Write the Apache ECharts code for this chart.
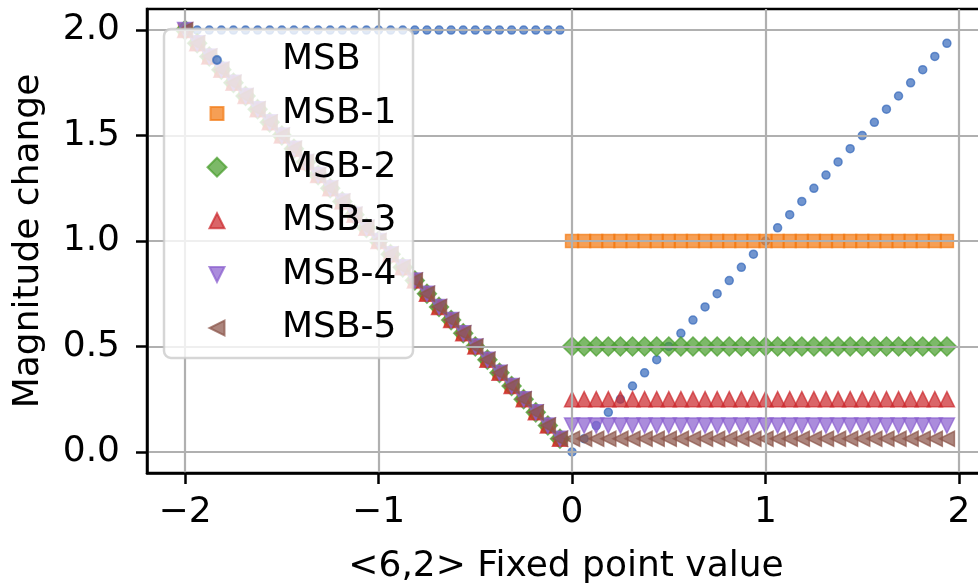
<!DOCTYPE html>
<html>
<head>
<meta charset="utf-8">
<script src="https://cdn.jsdelivr.net/npm/echarts@6/dist/echarts.min.js"></script>
<style>
  html, body { margin: 0; padding: 0; background: #fff; }
  #chart { width: 978px; height: 583px; }
</style>
</head>
<body>
<div id="chart"></div>
<script>
// <6,2> fixed point grid, step 1/16
const fixedValues = [
  -2, -1.9375, -1.875, -1.8125, -1.75, -1.6875, -1.625, -1.5625,
  -1.5, -1.4375, -1.375, -1.3125, -1.25, -1.1875, -1.125, -1.0625,
  -1, -0.9375, -0.875, -0.8125, -0.75, -0.6875, -0.625, -0.5625,
  -0.5, -0.4375, -0.375, -0.3125, -0.25, -0.1875, -0.125, -0.0625,
  0, 0.0625, 0.125, 0.1875, 0.25, 0.3125, 0.375, 0.4375,
  0.5, 0.5625, 0.625, 0.6875, 0.75, 0.8125, 0.875, 0.9375,
  1, 1.0625, 1.125, 1.1875, 1.25, 1.3125, 1.375, 1.4375,
  1.5, 1.5625, 1.625, 1.6875, 1.75, 1.8125, 1.875, 1.9375
];

// Magnitude change when flipping each bit
const msbChange = [
  2, 2, 2, 2, 2, 2, 2, 2,
  2, 2, 2, 2, 2, 2, 2, 2,
  2, 2, 2, 2, 2, 2, 2, 2,
  2, 2, 2, 2, 2, 2, 2, 2,
  0, 0.0625, 0.125, 0.1875, 0.25, 0.3125, 0.375, 0.4375,
  0.5, 0.5625, 0.625, 0.6875, 0.75, 0.8125, 0.875, 0.9375,
  1, 1.0625, 1.125, 1.1875, 1.25, 1.3125, 1.375, 1.4375,
  1.5, 1.5625, 1.625, 1.6875, 1.75, 1.8125, 1.875, 1.9375
];
// negative half: shared by the lower bits
const negativeHalf = [
  2, 1.9375, 1.875, 1.8125, 1.75, 1.6875, 1.625, 1.5625,
  1.5, 1.4375, 1.375, 1.3125, 1.25, 1.1875, 1.125, 1.0625,
  1, 0.9375, 0.875, 0.8125, 0.75, 0.6875, 0.625, 0.5625,
  0.5, 0.4375, 0.375, 0.3125, 0.25, 0.1875, 0.125, 0.0625
];
const msb1Change = negativeHalf.concat([
  1, 1, 1, 1, 1, 1, 1, 1, 1, 1, 1, 1, 1, 1, 1, 1,
  1, 1, 1, 1, 1, 1, 1, 1, 1, 1, 1, 1, 1, 1, 1, 1
]);
const msb2Change = negativeHalf.concat([
  0.5, 0.5, 0.5, 0.5, 0.5, 0.5, 0.5, 0.5, 0.5, 0.5, 0.5, 0.5, 0.5, 0.5, 0.5, 0.5,
  0.5, 0.5, 0.5, 0.5, 0.5, 0.5, 0.5, 0.5, 0.5, 0.5, 0.5, 0.5, 0.5, 0.5, 0.5, 0.5
]);
const msb3Change = negativeHalf.concat([
  0.25, 0.25, 0.25, 0.25, 0.25, 0.25, 0.25, 0.25, 0.25, 0.25, 0.25, 0.25, 0.25, 0.25, 0.25, 0.25,
  0.25, 0.25, 0.25, 0.25, 0.25, 0.25, 0.25, 0.25, 0.25, 0.25, 0.25, 0.25, 0.25, 0.25, 0.25, 0.25
]);
const msb4Change = negativeHalf.concat([
  0.125, 0.125, 0.125, 0.125, 0.125, 0.125, 0.125, 0.125, 0.125, 0.125, 0.125, 0.125, 0.125, 0.125, 0.125, 0.125,
  0.125, 0.125, 0.125, 0.125, 0.125, 0.125, 0.125, 0.125, 0.125, 0.125, 0.125, 0.125, 0.125, 0.125, 0.125, 0.125
]);
const msb5Change = negativeHalf.concat([
  0.0625, 0.0625, 0.0625, 0.0625, 0.0625, 0.0625, 0.0625, 0.0625, 0.0625, 0.0625, 0.0625, 0.0625, 0.0625, 0.0625, 0.0625, 0.0625,
  0.0625, 0.0625, 0.0625, 0.0625, 0.0625, 0.0625, 0.0625, 0.0625, 0.0625, 0.0625, 0.0625, 0.0625, 0.0625, 0.0625, 0.0625, 0.0625
]);

const seriesNames = ['MSB', 'MSB-1', 'MSB-2', 'MSB-3', 'MSB-4', 'MSB-5'];
const xTicks = [-2, -1, 0, 1, 2];
const yTicks = [0, 0.5, 1, 1.5, 2];

const FONT = 'DejaVu Sans';
const FS = 36;
const seriesValues = [msbChange, msb1Change, msb2Change, msb3Change, msb4Change, msb5Change];
const colors = ['#3a6cbc', '#f27a14', '#4a9e2e', '#cc2a2e', '#8a5fcf', '#8c564b'];
const symbols = ['circle', 'rect', 'diamond', 'triangle', 'triangle', 'triangle'];
const rotations = [0, 0, 0, 0, 180, 90];
// legend icons, oriented like the plotted markers
const legendIcons = [
  'circle', 'rect', 'diamond', 'triangle',
  'path://M0,0 L10,0 L5,10 Z',
  'path://M10,0 L10,10 L0,5 Z'
];
const sizes = [8, 13, 19, 15, 15, 15];
const rowCenters = [60, 113.6, 167.2, 220.8, 274.4, 328];

const minus = v => String(v).replace('-', '\u2212');

const series = seriesNames.map((name, k) => ({
  name,
  type: 'scatter',
  symbol: symbols[k],
  symbolRotate: rotations[k],
  symbolSize: sizes[k],
  data: fixedValues.map((x, i) => [x, seriesValues[k][i]]),
  itemStyle: { color: colors[k], opacity: 0.72, borderColor: colors[k], borderWidth: 1.5 },
  emphasis: { disabled: true },
  z: 2
}));

const legends = seriesNames.map((name, k) => ({
  data: [{ name, icon: legendIcons[k] }],
  orient: 'vertical',
  left: 216 - sizes[k] / 2,
  top: rowCenters[k] - 21,
  padding: 0,
  itemWidth: sizes[k],
  itemHeight: sizes[k],
  selectedMode: false,
  z: 6,
  textStyle: {
    fontFamily: FONT, fontSize: FS, color: '#000', lineHeight: 42,
    padding: [0, 0, 0, 281 - (216 + sizes[k] / 2 + 5)]
  }
}));

const chart = echarts.init(document.getElementById('chart'), null, { renderer: 'canvas' });
chart.setOption({
  animation: false,
  backgroundColor: '#fff',
  grid: {
    left: 147, top: 9, width: 838, height: 464,
    outerBoundsMode: 'none', containLabel: false,
    show: true, borderColor: '#000', borderWidth: 2.5, backgroundColor: 'transparent'
  },
  xAxis: {
    type: 'value', min: -2.196875, max: 2.134375, z: 3,
    name: '<6,2> Fixed point value', nameLocation: 'middle', nameGap: 76,
    nameTextStyle: { fontFamily: FONT, fontSize: FS, color: '#000' },
    axisLine: { show: true, onZero: false, lineStyle: { color: '#000', width: 2.5 } },
    axisTick: { show: true, customValues: xTicks, length: 11, lineStyle: { color: '#000', width: 2.5 } },
    axisLabel: { customValues: xTicks, margin: 22, fontFamily: FONT, fontSize: FS, color: '#000', formatter: v => minus(v) },
    splitLine: { show: true, lineStyle: { color: '#b0b0b0', width: 2.2 } }
  },
  yAxis: {
    type: 'value', min: -0.1, max: 2.1, z: 3,
    name: 'Magnitude change', nameLocation: 'middle', nameGap: 100,
    nameTextStyle: { fontFamily: FONT, fontSize: FS, color: '#000' },
    axisLine: { show: true, onZero: false, lineStyle: { color: '#000', width: 2.5 } },
    axisTick: { show: true, customValues: yTicks, length: 11, lineStyle: { color: '#000', width: 2.5 } },
    axisLabel: { customValues: yTicks, margin: 27, fontFamily: FONT, fontSize: FS, color: '#000', formatter: v => v.toFixed(1) },
    splitLine: { show: true, lineStyle: { color: '#b0b0b0', width: 2.2 } }
  },
  graphic: [{
    type: 'rect', z: 5,
    shape: { x: 164, y: 29, width: 249, height: 329, r: 7 },
    style: { fill: 'rgba(255,255,255,0.8)', stroke: 'rgba(204,204,204,0.8)', lineWidth: 2.5 }
  }],
  legend: legends,
  series
});
</script>
</body>
</html>
